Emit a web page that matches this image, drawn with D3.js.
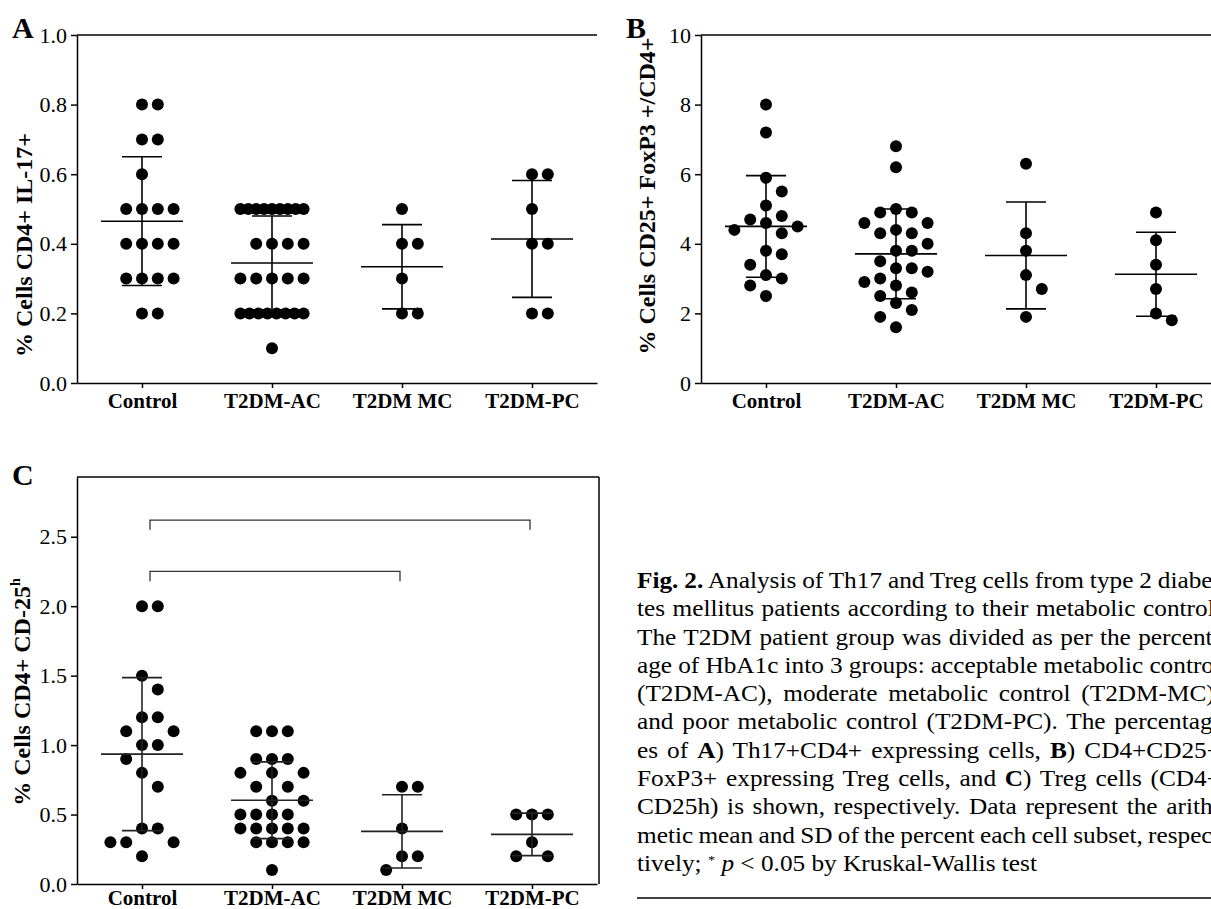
<!DOCTYPE html>
<html><head><meta charset="utf-8">
<script src="https://cdn.jsdelivr.net/npm/d3@7"></script>
<style>
body{margin:0;background:#fff;}
svg{display:block;}
text{font-family:"Liberation Serif","Times New Roman",serif;fill:#000;}
</style></head><body>
<svg id="chart" width="1211" height="909"></svg>
<script>
// ---------------- DATA ----------------
const categories = ["Control", "T2DM-AC", "T2DM MC", "T2DM-PC"];

// Panel A: % Cells CD4+ IL-17+
const aControl = [0.8,0.8,0.7,0.7,0.6,0.5,0.5,0.5,0.5,0.4,0.4,0.4,0.4,0.3,0.3,0.3,0.3,0.2,0.2];
const aAC = [0.5,0.5,0.5,0.5,0.5,0.5,0.5,0.5,0.5,0.4,0.4,0.4,0.4,0.3,0.3,0.3,0.3,0.3,0.2,0.2,0.2,0.2,0.2,0.2,0.2,0.2,0.1];
const aMC = [0.5,0.4,0.4,0.3,0.2,0.2];
const aPC = [0.6,0.6,0.5,0.4,0.4,0.2,0.2];
const aMean = [0.465, 0.345, 0.334, 0.414];
const aSD = [0.185, 0.135, 0.121, 0.168];
const aTicks = [0, 0.2, 0.4, 0.6, 0.8, 1.0];

// Panel B: % Cells CD25+ FoxP3+/CD4+
const bControl = [8.0,7.2,5.9,5.5,5.1,4.8,4.7,4.6,4.5,4.4,4.3,3.8,3.7,3.4,3.1,3.0,2.8,2.5];
const bAC = [6.8,6.2,5.0,4.9,4.9,4.6,4.6,4.4,4.3,4.3,4.0,3.8,3.8,3.5,3.3,3.3,3.2,3.0,2.9,2.8,2.6,2.5,2.3,2.1,1.9,1.6];
const bMC = [6.3,4.3,3.8,3.1,2.7,1.9];
const bPC = [4.9,4.1,3.4,2.7,2.0,1.8];
const bMean = [4.50, 3.71, 3.665, 3.125];
const bSD = [1.46, 1.29, 1.535, 1.205];
const bTicks = [0, 2, 4, 6, 8, 10];

// Panel C: % Cells CD4+ CD-25h
const cControl = [2.0,2.0,1.5,1.4,1.2,1.2,1.1,1.1,1.0,1.0,0.9,0.8,0.7,0.4,0.4,0.3,0.3,0.3,0.2];
const cAC = [1.1,1.1,1.1,0.9,0.9,0.9,0.8,0.8,0.8,0.7,0.7,0.6,0.6,0.5,0.5,0.5,0.5,0.4,0.4,0.4,0.4,0.4,0.3,0.3,0.3,0.3,0.1];
const cMC = [0.7,0.7,0.4,0.2,0.2,0.1];
const cPC = [0.5,0.5,0.5,0.3,0.2,0.2];
const cMean = [0.935, 0.603, 0.379, 0.357];
const cSD = [0.551, 0.276, 0.264, 0.153];
const cTicks = [0, 0.5, 1.0, 1.5, 2.0, 2.5];
// significance brackets: [from, to, height]
const cBrackets = [["Control", "T2DM-PC", 2.62], ["Control", "T2DM MC", 2.25]];

const captionLines = [
  [["b","Fig. 2."],["n"," Analysis of Th17 and Treg cells from type 2 diabe-"]],
  [["n","tes mellitus patients according to their metabolic control."]],
  [["n","The T2DM patient group was divided as per the percent-"]],
  [["n","age of HbA1c into 3 groups: acceptable metabolic control"]],
  [["n","(T2DM-AC), moderate metabolic control (T2DM-MC),"]],
  [["n","and poor metabolic control (T2DM-PC). The percentag-"]],
  [["n","es of "],["b","A"],["n",") Th17+CD4+ expressing cells, "],["b","B"],["n",") CD4+CD25+"]],
  [["n","FoxP3+ expressing Treg cells, and "],["b","C"],["n",") Treg cells (CD4+"]],
  [["n","CD25h) is shown, respectively. Data represent the arith-"]],
  [["n","metic mean and SD of the percent each cell subset, respec-"]],
  [["n","tively; "],["s","*"],["n"," "],["i","p"],["n"," < 0.05 by Kruskal-Wallis test"]]
];

// ---------------- DRAW ----------------
const svg = d3.select("#chart");
const R = 6;

// deterministic column-scatter layout (no randomness)
function swarm(vals, y, slot, D, maxSlot) {
  const pts = vals.map(v => ({v, py: y(v), dx: 0}));
  const counts = d3.rollup(pts, g => g.length, p => p.v);
  const rowIdx = new Map();
  const placed = [];
  const cands = [0];
  for (let k = 1; k <= maxSlot; k++) cands.push(k, -k);
  pts.forEach(p => {
    const n = counts.get(p.v);
    if (n > 2 * maxSlot + 1) {
      const k = rowIdx.get(p.v) || 0; rowIdx.set(p.v, k + 1);
      p.dx = -maxSlot * slot + k * (2 * maxSlot * slot / (n - 1));
    } else {
      let best = null, bestD = -1;
      for (const c of cands) {
        const dx = c * slot;
        const md = placed.length ? d3.min(placed, q => Math.hypot(q.dx - dx, q.py - p.py)) : Infinity;
        if (md >= D) { best = dx; break; }
        if (md > bestD + 0.01) { bestD = md; best = dx; }
      }
      p.dx = best;
    }
    placed.push(p);
  });
  return pts;
}

function panel(cfg) {
  const g = svg.append("g");
  const x = d3.scalePoint().domain(categories).range([cfg.x0, cfg.x0 + 520]).padding(0.5);
  const y = d3.scaleLinear().domain(cfg.domain).range([cfg.yb, cfg.yt]);

  // frame
  g.append("line").attr("x1", cfg.x0).attr("x2", cfg.x0 + cfg.w).attr("y1", cfg.yt).attr("y2", cfg.yt)
    .attr("stroke", "#000").attr("stroke-width", 1.5);
  if (cfg.box) {
    g.append("line").attr("x1", cfg.x0 + cfg.w).attr("x2", cfg.x0 + cfg.w).attr("y1", cfg.yt).attr("y2", cfg.yb)
      .attr("stroke", "#000").attr("stroke-width", 1.5);
  }

  const yAxis = d3.axisLeft(y).tickValues(cfg.ticks).tickFormat(cfg.fmt).tickSize(6).tickSizeOuter(0).tickPadding(4);
  const ya = g.append("g").attr("transform", `translate(${cfg.x0},0)`).call(yAxis);
  const xAxis = d3.axisBottom(x).tickSize(5).tickSizeOuter(0);
  const xa = g.append("g").attr("transform", `translate(0,${cfg.yb})`).call(xAxis);
  [ya, xa].forEach(a => {
    a.attr("font-family", null).attr("font-size", null);
    a.select(".domain").attr("stroke", "#000").attr("stroke-width", 1.5);
    a.selectAll(".tick line").attr("stroke", "#000").attr("stroke-width", 1.5);
  });
  ya.selectAll("text").attr("font-size", 22).attr("fill", "#000");
  xa.selectAll("text").attr("font-size", 21).attr("font-weight", "bold").attr("fill", "#000")
    .attr("y", cfg.labOff).attr("dy", "0");

  // dots
  cfg.groups.forEach((vals, i) => {
    const cx = x(categories[i]);
    const pts = swarm(vals, y, 15.8, 15, 2);
    g.append("g").selectAll("circle").data(pts).join("circle")
      .attr("cx", d => cx + d.dx).attr("cy", d => d.py).attr("r", R).attr("fill", "#000");
  });

  // mean and SD
  cfg.means.forEach((m, i) => {
    const cx = x(categories[i]);
    const s = cfg.sds[i];
    const col = cfg.lineColor;
    g.append("line").attr("x1", cx - 41).attr("x2", cx + 41).attr("y1", y(m)).attr("y2", y(m))
      .attr("stroke", col).attr("stroke-width", 1.6);
    g.append("line").attr("x1", cx).attr("x2", cx).attr("y1", y(m - s)).attr("y2", y(m + s))
      .attr("stroke", col).attr("stroke-width", 1.6);
    [m - s, m + s].forEach(v => g.append("line").attr("x1", cx - 20).attr("x2", cx + 20)
      .attr("y1", y(v)).attr("y2", y(v)).attr("stroke", col).attr("stroke-width", 1.6));
  });

  // brackets
  (cfg.brackets || []).forEach(([a, b, h]) => {
    const x1 = x(a) + 8, x2 = x(b) - 2;
    const drop = 0.07;
    g.append("path")
      .attr("d", d3.line()([[x1, y(h - drop)], [x1, y(h)], [x2, y(h)], [x2, y(h - drop)]]))
      .attr("fill", "none").attr("stroke", "#333").attr("stroke-width", 1.3);
  });

  // y title
  const t = g.append("text").attr("transform", `translate(${cfg.tx},${cfg.ty}) rotate(-90)`)
    .attr("text-anchor", "middle").attr("font-weight", "bold").attr("font-size", 24);
  t.append("tspan").text(cfg.title);
  if (cfg.sup) t.append("tspan").attr("font-size", 14).attr("dy", -10).text(cfg.sup);

  // panel letter
  g.append("text").attr("x", cfg.lx).attr("y", cfg.ly).attr("font-weight", "bold").attr("font-size", 30)
    .text(cfg.letter);
}

panel({x0: 77, w: 520, yt: 35, yb: 383, domain: [0, 1.0], ticks: aTicks, fmt: d3.format(".1f"), labOff: 25,
  groups: [aControl, aAC, aMC, aPC], means: aMean, sds: aSD, lineColor: "#000",
  title: "% Cells CD4+ IL-17+", tx: 32, ty: 245, letter: "A", lx: 12, ly: 38});
panel({x0: 701, w: 520, yt: 35, yb: 383, domain: [0, 10], ticks: bTicks, fmt: d3.format("d"), labOff: 25,
  groups: [bControl, bAC, bMC, bPC], means: bMean, sds: bSD, lineColor: "#000",
  title: "% Cells CD25+ FoxP3 +/CD4+", tx: 655, ty: 196, letter: "B", lx: 626, ly: 38});
panel({x0: 77, w: 522, yt: 477, yb: 884, domain: [0, 2.93], ticks: cTicks, fmt: d3.format(".1f"), box: true, labOff: 21,
  groups: [cControl, cAC, cMC, cPC], means: cMean, sds: cSD, lineColor: "#222", brackets: cBrackets,
  title: "% Cells CD4+ CD-25", sup: "h", tx: 30, ty: 692, letter: "C", lx: 12, ly: 485});

// caption (horizontally widened glyphs, justified lines)
const capX = 637, capW = 584, capY0 = 588, capDY = 28.3, capK = 1.1;
const cap = svg.append("g").attr("transform", `translate(${capX},0) scale(${capK},1)`);
captionLines.forEach((segs, i) => {
  const t = cap.append("text").attr("x", 0).attr("y", capY0 + i * capDY).attr("font-size", 23);
  segs.forEach(([k, s]) => {
    const ts = t.append("tspan").text(s);
    if (k === "b") ts.attr("font-weight", "bold");
    if (k === "i") ts.attr("font-style", "italic");
    if (k === "s") ts.attr("font-size", 13).attr("baseline-shift", "super");
  });
  if (i < captionLines.length - 1) {
    const full = segs.map(s => s[1]).join("");
    const spaces = (full.match(/ /g) || []).length;
    const w = t.node().getComputedTextLength();
    if (spaces > 0) t.style("word-spacing", ((capW / capK - w) / spaces) + "px");
  }
});
svg.append("line").attr("x1", capX).attr("x2", 1211).attr("y1", 898).attr("y2", 898)
  .attr("stroke", "#000").attr("stroke-width", 1.5);
</script>
</body></html>
